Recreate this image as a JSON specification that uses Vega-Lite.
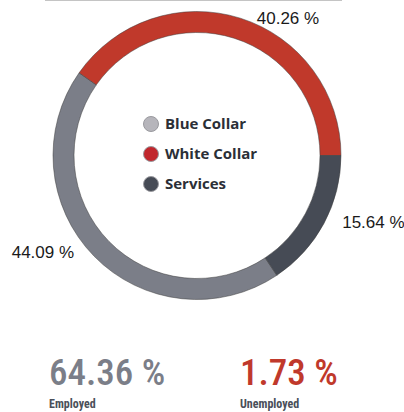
{
  "$schema": "https://vega.github.io/schema/vega-lite/v6.json",
  "padding": 0,
  "spacing": 0,
  "bounds": "flush",
  "config": {"view": {"stroke": null}, "font": "Liberation Sans"},
  "vconcat": [
    {
      "width": 394,
      "height": 311,
      "data": {"values": [
        {"cat": "Blue Collar", "value": 44.09, "label": "44.09 %"},
        {"cat": "White Collar", "value": 40.26, "label": "40.26 %"},
        {"cat": "Services", "value": 15.64, "label": "15.64 %"}
      ]},
      "layer": [
        {
          "data": {"values": [{}]},
          "mark": {"type": "rule", "color": "#c4c4c4", "strokeWidth": 1},
          "encoding": {"x": {"value": 45}, "x2": {"value": 342}, "y": {"value": 0.5}}
        },
        {
          "mark": {"type": "arc", "radius": 144, "radius2": 123, "stroke": "#3d3d3d", "strokeWidth": 0.5},
          "encoding": {
            "theta": {"field": "value", "type": "quantitative", "stack": true, "scale": {"domain": [0, 99.99], "range": [-0.95906, 5.32413]}},
            "order": {"field": "cat", "type": "ordinal", "sort": "descending"},
            "detail": {"field": "cat"},
            "color": {"field": "cat", "type": "nominal", "scale": {"domain": ["Blue Collar", "White Collar", "Services"], "range": ["#7b7e88", "#c0392b", "#464b55"]}, "legend": null}
          }
        },
        {
          "mark": {"type": "text", "radius": 152, "align": "left", "baseline": "middle", "dx": 14, "dy": 8, "fontSize": 17, "color": "#1a1a1a", "font": "Liberation Sans"},
          "encoding": {
            "theta": {"field": "value", "type": "quantitative", "stack": true},
            "order": {"field": "cat", "type": "ordinal", "sort": "descending"},
            "detail": {"field": "cat"},
            "text": {"condition": {"test": "datum.cat === 'White Collar'", "field": "label"}, "value": ""}
          }
        },
        {
          "mark": {"type": "text", "radius": 150, "thetaOffset": -0.028, "align": "left", "baseline": "middle", "dx": 11, "fontSize": 17, "color": "#1a1a1a", "font": "Liberation Sans"},
          "encoding": {
            "theta": {"field": "value", "type": "quantitative", "stack": true},
            "order": {"field": "cat", "type": "ordinal", "sort": "descending"},
            "detail": {"field": "cat"},
            "text": {"condition": {"test": "datum.cat === 'Services'", "field": "label"}, "value": ""}
          }
        },
        {
          "mark": {"type": "text", "radius": 146, "thetaOffset": 0.045, "align": "right", "baseline": "middle", "dx": -14, "fontSize": 17, "color": "#1a1a1a", "font": "Liberation Sans"},
          "encoding": {
            "theta": {"field": "value", "type": "quantitative", "stack": true},
            "order": {"field": "cat", "type": "ordinal", "sort": "descending"},
            "detail": {"field": "cat"},
            "text": {"condition": {"test": "datum.cat === 'Blue Collar'", "field": "label"}, "value": ""}
          }
        },
        {
          "mark": {"type": "point", "opacity": 0, "size": 0, "filled": true},
          "encoding": {
            "fill": {
              "field": "cat", "type": "nominal",
              "scale": {"domain": ["Blue Collar", "White Collar", "Services"], "range": ["#b6b5bb", "#c1272d", "#464b55"]},
              "legend": {
                "orient": "none", "legendX": 143, "legendY": 116, "title": null,
                "symbolType": "circle", "symbolSize": 225, "symbolOpacity": 1,
                "symbolStrokeColor": "#9a9a9f", "symbolStrokeWidth": 1,
                "labelFont": "Open Sans", "labelFontWeight": "bold", "labelFontSize": 15,
                "labelColor": "#2b2f37", "labelOffset": 6, "rowPadding": 10, "labelBaseline": "middle"
              }
            }
          }
        }
      ]
    },
    {
      "width": 394,
      "height": 101,
      "data": {"values": [
        {"label": "Employed", "value": "64.36 %"},
        {"label": "Unemployed", "value": "1.73 %"}
      ]},
      "encoding": {
        "x": {"field": "label", "type": "nominal", "scale": {"type": "point", "range": [49, 240], "padding": 0}, "axis": null}
      },
      "layer": [
        {
          "mark": {"type": "text", "align": "left", "baseline": "alphabetic", "dy": 23.5, "fontSize": 37, "fontWeight": 500, "font": "Roboto Condensed, DejaVu Sans Condensed"},
          "encoding": {
            "text": {"field": "value"},
            "color": {"field": "label", "type": "nominal", "scale": {"domain": ["Employed", "Unemployed"], "range": ["#454a54", "#c0392b"]}, "legend": null}
          }
        },
        {
          "mark": {"type": "text", "align": "left", "baseline": "alphabetic", "dy": 46.5, "fontSize": 12, "fontWeight": "bold", "font": "Roboto Condensed, DejaVu Sans Condensed", "color": "#4a4f59"},
          "encoding": {"text": {"field": "label"}}
        }
      ]
    }
  ]
}
